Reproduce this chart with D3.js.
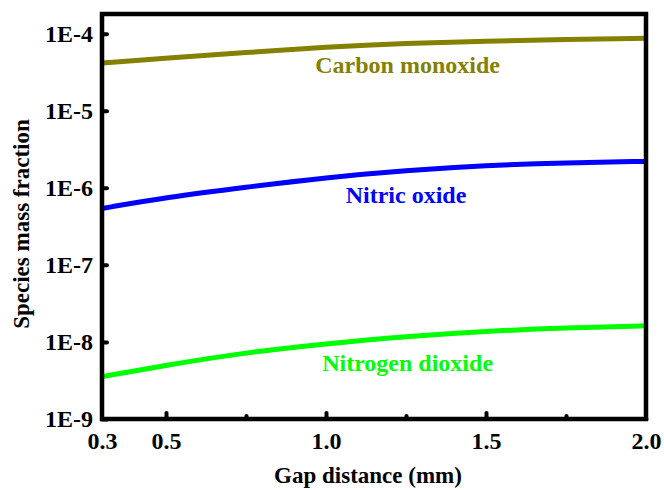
<!DOCTYPE html>
<html>
<head>
<meta charset="utf-8">
<script src="https://cdn.jsdelivr.net/npm/d3@7"></script>
<style>
  body { margin: 0; background: #fff; }
  svg { display: block; }
  svg text { font-family: "Liberation Serif", "DejaVu Serif", serif !important; font-weight: bold; }
</style>
</head>
<body>
<div id="chart_div"></div>
<script>
// gap distance (mm)
const gapDistance = [0.3, 0.5, 0.75, 1.0, 1.25, 1.5, 1.75, 2.0];

// species mass fractions
const carbonMonoxide  = [4.15e-5, 4.8e-5, 5.7e-5, 6.7e-5, 7.5e-5, 8.0e-5, 8.4e-5, 8.7e-5];
const nitricOxide     = [5.4e-7, 7.5e-7, 1.02e-6, 1.36e-6, 1.68e-6, 1.95e-6, 2.12e-6, 2.2e-6];
const nitrogenDioxide = [3.55e-9, 5.0e-9, 7.3e-9, 9.5e-9, 1.18e-8, 1.38e-8, 1.52e-8, 1.62e-8];

const seriesNames = ["Carbon monoxide", "Nitric oxide", "Nitrogen dioxide"];
const seriesColors = ["#848000", "#0000ff", "#00ff00"];

// label anchors in data units (x, y)
const labelX = [1.255, 1.25, 1.255];
const labelY = [3.12e-5, 6.4e-7, 4.2e-9];

const xTickLabels = [0.3, 0.5, 1.0, 1.5, 2.0];
const xMajorTicks = [0.5, 1.0, 1.5];
const xMinorTicks = [0.75, 1.25, 1.75];
const yTickValues = [1e-4, 1e-5, 1e-6, 1e-7, 1e-8, 1e-9];

const width = 664, height = 490;
const margin = {top: 14, right: 18, bottom: 71, left: 102};

const svg = d3.select("#chart_div")
    .append("svg")
    .attr("width", width)
    .attr("height", height);

const xScale = d3.scaleLinear()
    .domain([0.3, 2.0])
    .range([margin.left, width - margin.right]);

const yScale = d3.scaleLog()
    .domain([1e-9, 1.8e-4])
    .range([height - margin.bottom, margin.top]);

const allSeries = [carbonMonoxide, nitricOxide, nitrogenDioxide];

const line = d3.line()
    .x(d => xScale(d[0]))
    .y(d => yScale(d[1]))
    .curve(d3.curveBasis);

allSeries.forEach(function(values, i) {
    svg.append("path")
        .datum(gapDistance.map((g, j) => [g, values[j]]))
        .attr("fill", "none")
        .attr("stroke", seriesColors[i])
        .attr("stroke-width", 5)
        .attr("d", line);

    svg.append("text")
        .attr("x", xScale(labelX[i]))
        .attr("y", yScale(labelY[i]))
        .attr("text-anchor", "middle")
        .attr("font-size", 24)
        .attr("fill", seriesColors[i])
        .text(seriesNames[i]);
});

const x0 = xScale.range()[0], x1 = xScale.range()[1];
const y0 = yScale.range()[1], y1 = yScale.range()[0];

// y axis, ticks pointing inward
const yAxis = svg.append("g")
    .attr("transform", "translate(" + x0 + ",0)")
    .call(d3.axisLeft(yScale)
        .tickValues(yTickValues)
        .tickSizeInner(-5)
        .tickSizeOuter(0)
        .tickPadding(9)
        .tickFormat(d => "1E" + Math.round(Math.log10(d))));

// x axis labels
const xAxis = svg.append("g")
    .attr("transform", "translate(0," + y1 + ")")
    .call(d3.axisBottom(xScale)
        .tickValues(xTickLabels)
        .tickSize(0)
        .tickPadding(13)
        .tickFormat(d3.format(".1f")));

// inward major / minor x ticks
const xMajor = svg.append("g")
    .attr("transform", "translate(0," + y1 + ")")
    .call(d3.axisBottom(xScale).tickValues(xMajorTicks).tickSizeInner(-6).tickSizeOuter(0).tickFormat(""));
const xMinor = svg.append("g")
    .attr("transform", "translate(0," + y1 + ")")
    .call(d3.axisBottom(xScale).tickValues(xMinorTicks).tickSizeInner(-3).tickSizeOuter(0).tickFormat(""));

[yAxis, xAxis, xMajor, xMinor].forEach(function(g) {
    g.attr("font-family", null);
    g.select(".domain").remove();
    g.selectAll(".tick line")
        .attr("stroke", "#000")
        .attr("stroke-width", 4)
        .attr("stroke-linecap", "round");
    g.selectAll(".tick text")
        .attr("fill", "#000")
        .attr("font-size", 24);
});

// frame
svg.append("rect")
    .attr("x", x0)
    .attr("y", y0)
    .attr("width", x1 - x0)
    .attr("height", y1 - y0)
    .attr("fill", "none")
    .attr("stroke", "#000")
    .attr("stroke-width", 4.5);

// axis titles
svg.append("text")
    .attr("x", 368)
    .attr("y", 483)
    .attr("text-anchor", "middle")
    .attr("font-size", 23)
    .text("Gap distance (mm)");

svg.append("text")
    .attr("transform", "translate(29,224) rotate(-90)")
    .attr("text-anchor", "middle")
    .attr("font-size", 23)
    .text("Species mass fraction");
</script>
</body>
</html>
